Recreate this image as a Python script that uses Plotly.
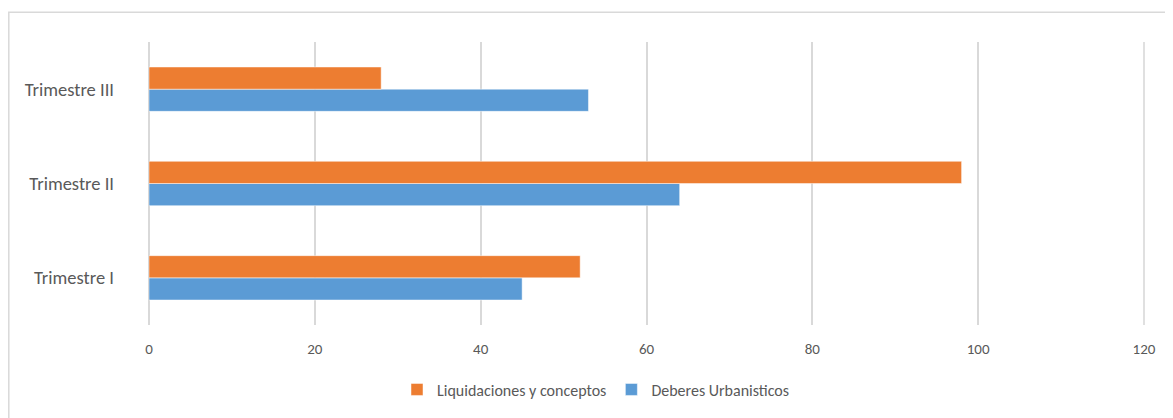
import plotly.graph_objects as go

categories = ["Trimestre I", "Trimestre II", "Trimestre III"]
liquidaciones = [52, 98, 28]
deberes = [45, 64, 53]
series_names = ["Liquidaciones y conceptos", "Deberes Urbanisticos"]
x_ticks = [0, 20, 40, 60, 80, 100, 120]

FONT = "Carlito, 'Liberation Sans Narrow', 'Open Sans', sans-serif"
GRAY = "#595959"
GRID = "#D9D9D9"

OFF = 8  # page body margin
W, H = 1173 - OFF, 418 - OFF
L = 149 - OFF
R = W - (1145 - OFF)
T = 42 - OFF
B = H - (327 - OFF)
pw, ph = W - L - R, H - T - B

def px_x(p):
    return (p - OFF - L) / pw

def px_y(p):
    return (H - B - (p - OFF)) / ph

fig = go.Figure()
fig.add_trace(go.Bar(
    y=categories, x=deberes, name=series_names[1], orientation="h",
    marker=dict(color="#5B9BD5", line=dict(color="rgba(255,255,255,0.6)", width=0.8)),
))
fig.add_trace(go.Bar(
    y=categories, x=liquidaciones, name=series_names[0], orientation="h",
    marker=dict(color="#ED7D31", line=dict(color="rgba(255,255,255,0.6)", width=0.8)),
))

# gridline at the far end of the axis (Plotly omits the edge gridline)
edge_grid = dict(
    type="line", xref="x", yref="paper",
    x0=x_ticks[-1], x1=x_ticks[-1], y0=0, y1=1,
    line=dict(color=GRID, width=1.6), layer="below",
)

fig.update_layout(
    width=W, height=H,
    margin=dict(l=L, r=R, t=T, b=B),
    paper_bgcolor="white", plot_bgcolor="white",
    barmode="group", bargap=0.53, bargroupgap=0,
    font=dict(family=FONT, color=GRAY),
    showlegend=True,
    legend=dict(
        orientation="h", traceorder="reversed",
        x=px_x(596), xanchor="center", y=px_y(392), yanchor="middle",
        font=dict(size=16, color=GRAY), itemwidth=30,
    ),
    xaxis=dict(
        range=[0, 120.12], tickvals=x_ticks, ticktext=[str(v) for v in x_ticks],
        showgrid=True, gridcolor=GRID, gridwidth=1.6,
        zeroline=True, zerolinecolor=GRID, zerolinewidth=1.6,
        showline=False, ticks="", tickfont=dict(size=15, color=GRAY),
        ticklabelstandoff=13,
    ),
    yaxis=dict(
        showgrid=False, zeroline=False, showline=False, ticks="",
        tickfont=dict(size=18.5, color=GRAY), ticklabelstandoff=34,
    ),
    shapes=[
        dict(
            type="rect", xref="paper", yref="paper",
            x0=px_x(8.8), x1=px_x(1190), y0=px_y(435), y1=px_y(12),
            line=dict(color=GRID, width=1.5), fillcolor="rgba(0,0,0,0)",
            layer="below",
        ),
        edge_grid,
    ],
)

fig.write_html("out.html")
